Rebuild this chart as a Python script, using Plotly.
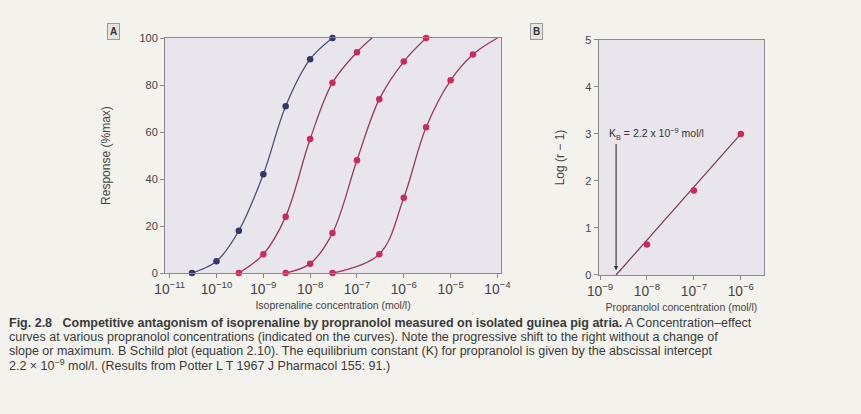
import plotly.graph_objects as go
import math

# ---------------- data ----------------
# Panel A: isoprenaline concentration-response curves
c1_x = [3e-11, 1e-10, 3e-10, 1e-9, 3e-9, 1e-8, 3e-8]
c1_y = [0, 5, 18, 42, 71, 91, 100]
c2_x = [3e-10, 1e-9, 3e-9, 1e-8, 3e-8, 1e-7]
c2_y = [0, 8, 24, 57, 81, 94]
c3_x = [3e-9, 1e-8, 3e-8, 1e-7, 3e-7, 1e-6, 3e-6]
c3_y = [0, 4, 17, 48, 74, 90, 100]
c4_x = [3e-8, 3e-7, 1e-6, 3e-6, 1e-5, 3e-5]
c4_y = [0, 8, 32, 62, 82, 93]
# where the drawn curves end
c2_end = (2.1e-7, 100)
c4_end = (1e-4, 100)

# Panel B: Schild plot
schild_x = [1e-8, 1e-7, 1e-6]
schild_y = [0.65, 1.8, 3.0]
kb = 2.2e-9
fit_x = [kb, 1e-6]
fit_y = [0, 3.0]

a_ticks = [0, 20, 40, 60, 80, 100]
b_ticks = [0, 1, 2, 3, 4, 5]

# ---------------- style ----------------
FONT = "Liberation Sans"
BLUE_L = "#4b4f82"
BLUE_M = "#34376a"
RED_L = "#9b3a5c"
RED_M = "#cc2a5c"
FRAME = "#8a8a8a"
TXT = "#444444"

fig = go.Figure()

def curve(xs, ys, lc):
    fig.add_trace(go.Scatter(x=xs, y=ys, mode="lines",
                             line=dict(color=lc, width=1.3, shape="spline", smoothing=1.0),
                             xaxis="x", yaxis="y", showlegend=False, hoverinfo="skip"))

def pts(xs, ys, mc, xa="x", ya="y"):
    fig.add_trace(go.Scatter(x=xs, y=ys, mode="markers",
                             marker=dict(color=mc, size=6.5, line=dict(width=0)),
                             xaxis=xa, yaxis=ya, showlegend=False, cliponaxis=False))

curve(c1_x, c1_y, BLUE_L)
curve(c2_x + [c2_end[0]], c2_y + [c2_end[1]], RED_L)
curve(c3_x, c3_y, RED_L)
curve(c4_x + [c4_end[0]], c4_y + [c4_end[1]], RED_L)
pts(c1_x, c1_y, BLUE_M)
pts(c2_x, c2_y, RED_M)
pts(c3_x, c3_y, RED_M)
pts(c4_x, c4_y, RED_M)

fig.add_trace(go.Scatter(x=fit_x, y=fit_y, mode="lines",
                         line=dict(color="#7a3a4e", width=1.2),
                         xaxis="x2", yaxis="y2", showlegend=False, hoverinfo="skip"))
pts(schild_x, schild_y, RED_M, "x2", "y2")

axis_common = dict(showline=True, linecolor=FRAME, linewidth=1, mirror=True,
                   ticks="outside", ticklen=4, tickcolor=FRAME, showgrid=False,
                   zeroline=False, tickfont=dict(family=FONT, size=11, color=TXT))

fig.update_layout(
    width=861, height=414,
    margin=dict(l=0, r=0, t=0, b=0),
    paper_bgcolor="#f3f2ed",
    plot_bgcolor="#e9e5ec",
    font=dict(family=FONT, color=TXT),
    xaxis=dict(type="log", range=[-11.1, -3.92], domain=[157/861, 502/861],
               dtick=1, exponentformat="power", anchor="y",
               title=dict(text="Isoprenaline concentration (mol/l)",
                          font=dict(family=FONT, size=10.5, color=TXT), standoff=5),
               **axis_common),
    yaxis=dict(range=[0, 100], domain=[1-275/414, 1-33/414], tickvals=a_ticks,
               anchor="x",
               title=dict(text="Response (%max)",
                          font=dict(family=FONT, size=12, color=TXT), standoff=26),
               **axis_common),
    xaxis2=dict(type="log", range=[-9.03, -5.5], domain=[602/861, 772/861],
                dtick=1, exponentformat="power", anchor="y2",
                title=dict(text="Propranolol concentration (mol/l)",
                           font=dict(family=FONT, size=10.5, color=TXT), standoff=5),
                **axis_common),
    yaxis2=dict(range=[0, 5], domain=[1-277/414, 1-35/414], tickvals=b_ticks,
                anchor="x2",
                title=dict(text="Log (r − 1)",
                           font=dict(family=FONT, size=12, color=TXT), standoff=18),
                **axis_common),
)

# K_B arrow and label
fig.add_annotation(x=math.log10(kb), y=0.1, ax=math.log10(kb), ay=2.82,
                   xref="x2", yref="y2", axref="x2", ayref="y2",
                   text="", showarrow=True, arrowhead=2, arrowsize=0.8,
                   arrowwidth=1.1, arrowcolor="#333333")
fig.add_annotation(x=-8.86, y=3.0, xref="x2", yref="y2", xanchor="left", yanchor="middle",
                   text="K<sub>B</sub> = 2.2 x 10<sup>−9</sup> mol/l", showarrow=False,
                   font=dict(family=FONT, size=10.5, color="#333333"))

# panel labels
for lbl, px in (("A", 97), ("B", 538)):
    fig.add_annotation(x=px/861, y=1-17/414, xref="paper", yref="paper",
                       text="<b>" + lbl + "</b>", showarrow=False,
                       font=dict(family=FONT, size=10, color="#333333"),
                       bordercolor="#9a9a9a", borderwidth=1, borderpad=2,
                       bgcolor="#e4e4e0")

# caption
caption = [
    "<b>Fig. 2.8   Competitive antagonism of isoprenaline by propranolol measured on isolated guinea pig atria.</b> A Concentration–effect",
    "curves at various propranolol concentrations (indicated on the curves). Note the progressive shift to the right without a change of",
    "slope or maximum. B Schild plot (equation 2.10). The equilibrium constant (K) for propranolol is given by the abscissal intercept",
    "2.2 × 10<sup>−9</sup> mol/l. (Results from Potter L T 1967 J Pharmacol 155: 91.)",
]
for i, line in enumerate(caption):
    fig.add_annotation(x=-4/861, y=1-(326+14.5*i)/414, xref="paper", yref="paper",
                       xanchor="left", yanchor="middle", text=line, showarrow=False,
                       align="left", borderpad=0,
                       font=dict(family=FONT, size=12.5, color="#3a3a3a"))

fig.write_html("out.html")
